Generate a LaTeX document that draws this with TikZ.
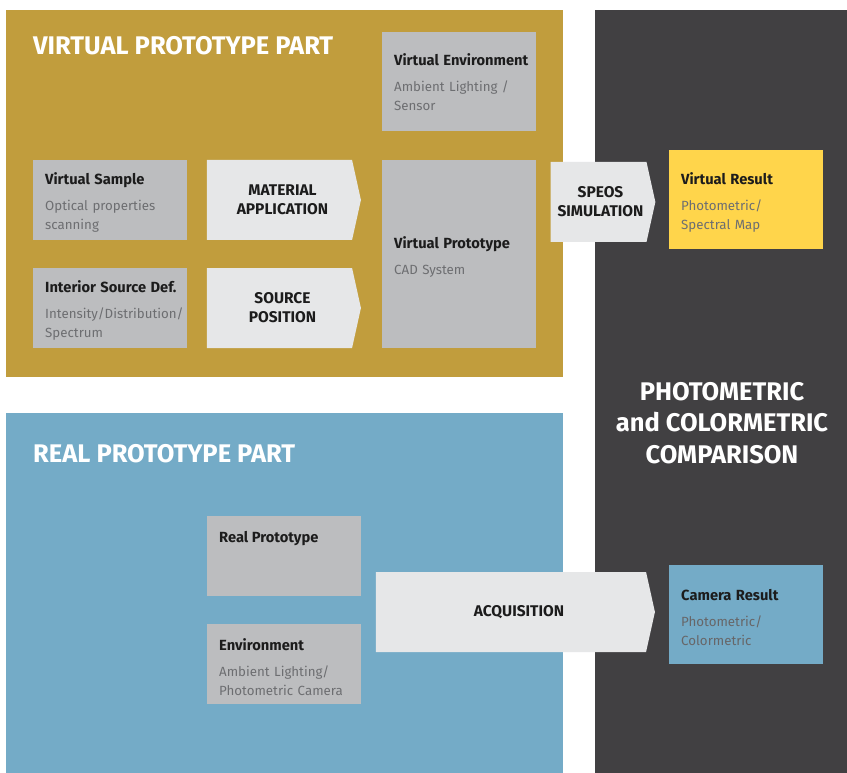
\documentclass[tikz,border=0pt]{standalone}
\usepackage{fontspec}
\setmainfont{Fira Sans}
\usepackage{tikz}
\usetikzlibrary{positioning}
\usetikzlibrary{shapes.symbols}

\definecolor{GoldPanel}{HTML}{C19D3D}
\definecolor{BluePanel}{HTML}{74ABC7}
\definecolor{DarkPanel}{HTML}{414042}
\definecolor{BoxGray}{HTML}{BCBDBF}
\definecolor{ArrowGray}{HTML}{E6E7E8}
\definecolor{ResultYellow}{HTML}{FFD54B}
\definecolor{HeadInk}{HTML}{1C1C1C}
\definecolor{SubInk}{HTML}{6D6E71}

% heading + two grey lines, kept on one line each
\newcommand{\boxhead}[2][17pt]{\mbox{\rule{0pt}{#1}\fontsize{14.7}{19}\bfseries\selectfont #2}}
\newcommand{\subtxt}[2]{\textcolor{SubInk}{\mbox{#1}\\\mbox{#2}}}

\tikzset{
	paneltitle/.style={text=white, inner sep=0pt, font=\fontsize{25.5}{31.5}\bfseries\selectfont},
	infobox/.style={rectangle, fill=BoxGray, anchor=north west, inner xsep=12pt, inner ysep=0pt,
		text width=130pt, minimum width=154pt, minimum height=80pt, align=left, text=HeadInk,
		font=\fontsize{13.3}{19}\selectfont},
	flowarrow/.style={signal, signal to=east, signal from=nowhere, signal pointer angle=155,
		fill=ArrowGray, minimum height=80pt, inner sep=0pt, align=center, text=HeadInk,
		font=\fontsize{15.5}{19}\bfseries\selectfont},
}

\begin{document}
\begin{tikzpicture}[x=1pt, y=-1pt]
	
	% ---------------------
	% Page & panels
	\useasboundingbox (0,0) rectangle (847,773);
	\fill[white] (0,0) rectangle (847,773);
	\fill[GoldPanel] (6,10) rectangle (563,377);
	\fill[BluePanel] (6,413) rectangle (563,773);
	\fill[DarkPanel] (595,10) rectangle (847,773);
	
	\node[paneltitle, anchor=base west] (VirtualTitle) at (33,55) {VIRTUAL PROTOTYPE PART};
	\node[paneltitle, anchor=base west] (RealTitle) at (33,462) {REAL PROTOTYPE PART};
	\node[paneltitle, align=center] (CompareTitle) at (722,423) {PHOTOMETRIC\\and COLORMETRIC\\COMPARISON};
	
	% ---------------------
	% Virtual prototype part
	\node[infobox, minimum height=99pt] (VirtEnv) at (382,32)
		{\boxhead[11pt]{Virtual Environment}\\[7pt]\subtxt{Ambient Lighting /}{Sensor}};
	
	\node[infobox] (VirtSample) at (33,160)
		{\boxhead{Virtual Sample}\\[7pt]\subtxt{Optical properties}{scanning}};
	\node[infobox] (SourceDef) at (33,268)
		{\boxhead{Interior Source Def.}\\[7pt]\subtxt{Intensity/Distribution/}{Spectrum}};
	
	\node[flowarrow, minimum width=154pt, text width=120pt] (MatApp) at (279.5,200)
		{\hspace*{6pt}MATERIAL\\\hspace*{6pt}APPLICATION};
	\node[flowarrow, minimum width=154pt, text width=120pt] (SrcPos) at (279.5,308)
		{\hspace*{6pt}SOURCE\\\hspace*{6pt}POSITION};
	
	\node[infobox, minimum height=188pt] (VirtProto) at (382,160)
		{\boxhead{Virtual Prototype}\\[7pt]\textcolor{SubInk}{CAD System}};
	
	\node[flowarrow, minimum width=104pt, text width=96pt] (Speos) at (598.5,202)
		{\hspace*{4pt}SPEOS\\\hspace*{4pt}SIMULATION};
	
	\node[infobox, fill=ResultYellow, minimum height=99pt] (VirtResult) at (669,150)
		{\boxhead{Virtual Result}\\[7pt]\subtxt{Photometric/}{Spectral Map}};
	
	% ---------------------
	% Real prototype part
	\node[infobox] (RealProto) at (207,516) {};
	\node[anchor=north west, inner sep=0pt, text=HeadInk, font=\fontsize{14.7}{19}\bfseries\selectfont]
		(RealProtoText) at ([xshift=12pt, yshift=-15pt]RealProto.north west) {Real Prototype};
	
	\node[infobox] (Envir) at (207,624)
		{\boxhead{Environment}\\[7pt]\subtxt{Ambient Lighting/}{Photometric Camera}};
	
	\node[flowarrow, minimum width=279pt, text width=200pt] (Acq) at (511,612) {\hspace*{16pt}ACQUISITION};
	
	\node[infobox, fill=BluePanel, minimum height=99pt] (CamResult) at (669,565)
		{\boxhead{Camera Result}\\[7pt]\textcolor{DarkPanel!80}{Photometric/\\Colormetric}};
	
\end{tikzpicture}
\end{document}
